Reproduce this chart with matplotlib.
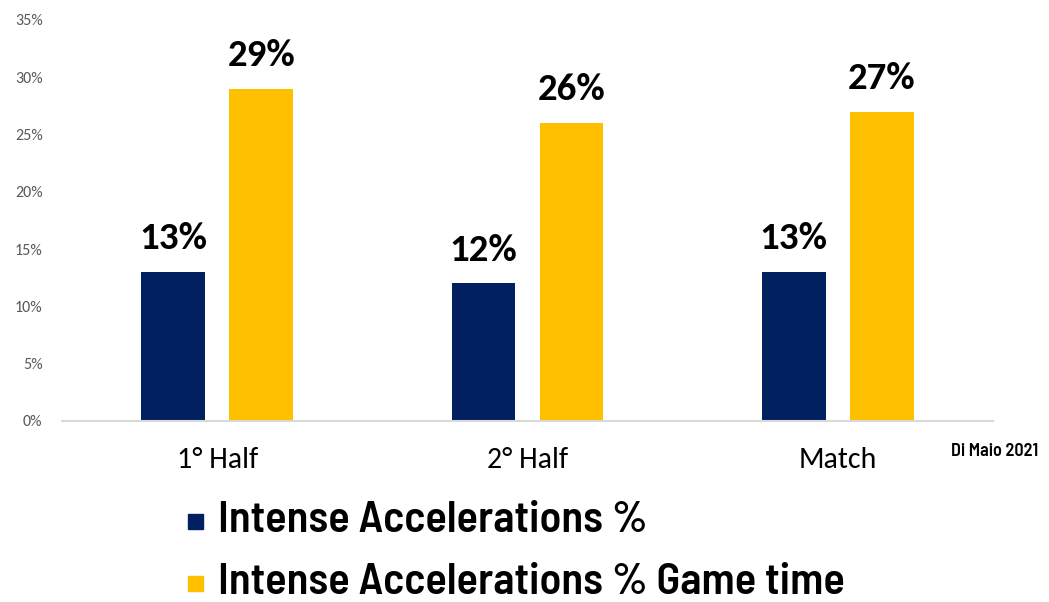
import matplotlib

matplotlib.use("Agg")

import matplotlib.pyplot as plt
import numpy as np
from matplotlib.patches import Rectangle

# intense accelerations, share of efforts vs share of game time
categories = ["1° Half", "2° Half", "Match"]
series_names = ["Intense Accelerations %", "Intense Accelerations % Game time"]
accel_pct = [13, 12, 13]
game_time_pct = [29, 26, 27]
y_ticks = [0, 5, 10, 15, 20, 25, 30, 35]

NAVY = "#002060"
GOLD = "#FFC000"
BODY_FONT = ["Carlito", "Lato", "DejaVu Sans"]
NARROW_FONT = ["Barlow Semi Condensed", "DejaVu Sans"]

fig = plt.figure(figsize=(10.49, 6.02), dpi=100)
ax = fig.add_axes([0.0591, 0.3007, 0.8875, 0.6661])

x = np.arange(len(categories))
w = 0.206
off = 0.1418
b1 = ax.bar(x - off, accel_pct, w, color=NAVY, zorder=2)
b2 = ax.bar(x + off, game_time_pct, w, color=GOLD, zorder=2)
for bars in (b1, b2):
    ax.bar_label(bars, fmt="%d%%", padding=12, fontsize=28, fontweight="bold",
                 family=BODY_FONT, color="black")

ax.set_xlim(-0.5, len(categories) - 0.5)
ax.set_ylim(0, 35)
ax.set_yticks(y_ticks, [f"{v}%" for v in y_ticks])
ax.set_xticks(x, categories)

for s in ("top", "right", "left"):
    ax.spines[s].set_visible(False)
ax.spines["bottom"].set_color("#D9D9D9")
ax.spines["bottom"].set_linewidth(1.5)
ax.tick_params(axis="both", length=0)
ax.tick_params(axis="y", pad=14, labelsize=11.5, labelcolor="#595959")
ax.tick_params(axis="x", pad=19, labelsize=21.5, labelcolor="black")
for lab in ax.get_xticklabels() + ax.get_yticklabels():
    lab.set_family(BODY_FONT)

fig.text(0.9485, 0.250, "Di Maio 2021", ha="center", va="center",
         fontsize=13, fontweight=600, family=NARROW_FONT)

# legend drawn by hand: small square swatch + large condensed label per row
sw = 15 / 1049
sh = 15 / 602
for i, (name, color) in enumerate(zip(series_names, (NAVY, GOLD))):
    base = 0.1163 - i * 0.1030
    fig.patches.append(Rectangle((0.1792, base + 0.0050), sw, sh, color=color,
                                 transform=fig.transFigure, figure=fig))
    fig.text(0.2078, base, name, ha="left", va="baseline", fontsize=32,
             fontweight=600, family=NARROW_FONT)

fig.savefig("out.png", dpi=100)
